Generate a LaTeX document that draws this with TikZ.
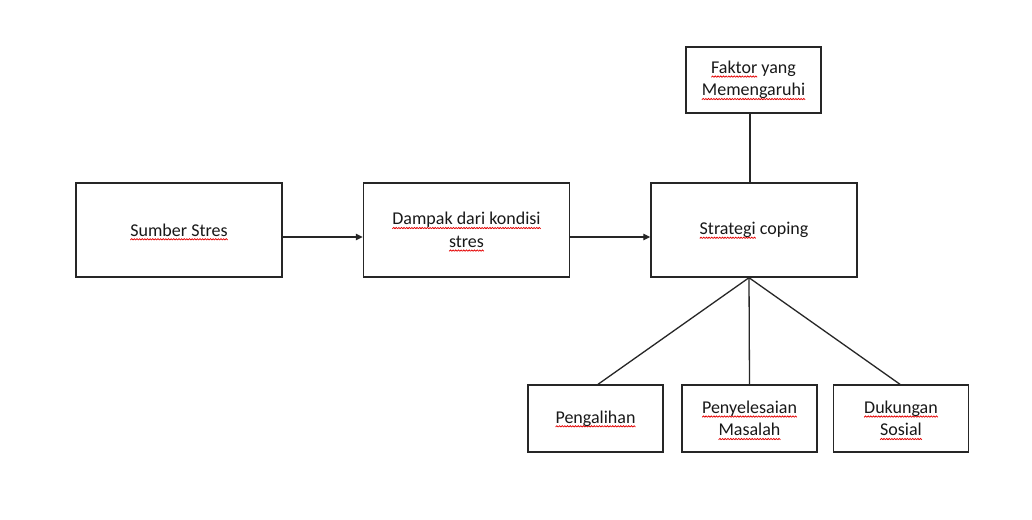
\documentclass[tikz,border=0pt]{standalone}
\usepackage{fontspec}
\setmainfont{Carlito}
\usetikzlibrary{arrows.meta}
\newsavebox\sqbox
\newcommand\sq[1]{\leavevmode\setbox0\hbox{#1}\rlap{\raisebox{-4pt}[0pt][0pt]{\hbox to \wd0{\xleaders\copy\sqbox\hfill}}}\box0\relax}
\tikzset{
  box/.style={draw=black!85, line width=1.4pt, fill=white, inner sep=0pt, align=center,
    font=\fontsize{18}{22.5}\selectfont, text=black!90},
  big/.style={box, minimum width=206pt, minimum height=94pt},
  small/.style={box, minimum width=135pt, minimum height=67pt},
  conn/.style={draw=black!85, line width=1.3pt},
  arr/.style={conn, -{Triangle[length=7pt,width=6.5pt]}}
}
\begin{document}
\sbox\sqbox{\begin{pgfpicture}%
\pgfpathrectangle{\pgfpointorigin}{\pgfpoint{2.6pt}{1.6pt}}\pgfusepath{use as bounding box}%
\pgfsetlinewidth{0.75pt}\pgfsetstrokecolor{red!90!black}%
\pgfpathmoveto{\pgfpoint{0pt}{0.2pt}}\pgfpathlineto{\pgfpoint{1.3pt}{1.5pt}}\pgfpathlineto{\pgfpoint{2.6pt}{0.2pt}}%
\pgfusepath{stroke}%
\end{pgfpicture}}%
\begin{tikzpicture}[x=1pt,y=-1pt]
\useasboundingbox (0,0) rectangle (1032,519);
\fill[white] (0,0) rectangle (1032,519);
\node[big] (a) at (179,230) {\sq{Sumber Stres}};
\node[big] (b) at (466.5,230) {\sq{Dampak dari kondisi}\\\sq{stres}};
\node[big] (s) at (754,230) {\sq{Strategi} coping};
\node[small, minimum height=66pt] (f) at (753.5,80) {\sq{Faktor} yang\\\sq{Memengaruhi}};
\node[small] (p1) at (595.5,418.5) {\sq{Pengalihan}};
\node[small] (p2) at (749.5,418.5) {\sq{Penyelesaian}\\\sq{Masalah}};
\node[small] (p3) at (901,418.5) {\sq{Dukungan}\\\sq{Sosial}};
\draw[arr] ([yshift=-7pt]a.east) -- ([yshift=-7pt]b.west);
\draw[arr] ([yshift=-7pt]b.east) -- ([yshift=-7pt]s.west);
\coordinate (fb) at ([xshift=-3.5pt]f.south);
\draw[conn] (fb) -- (fb |- s.north);
\coordinate (apex) at ([xshift=-5pt]s.south);
\draw[conn] (apex) -- ([xshift=2.5pt]p1.north);
\draw[conn] (apex) -- (p2.north);
\draw[conn] (apex) -- ([xshift=-1pt]p3.north);
\end{tikzpicture}
\end{document}
